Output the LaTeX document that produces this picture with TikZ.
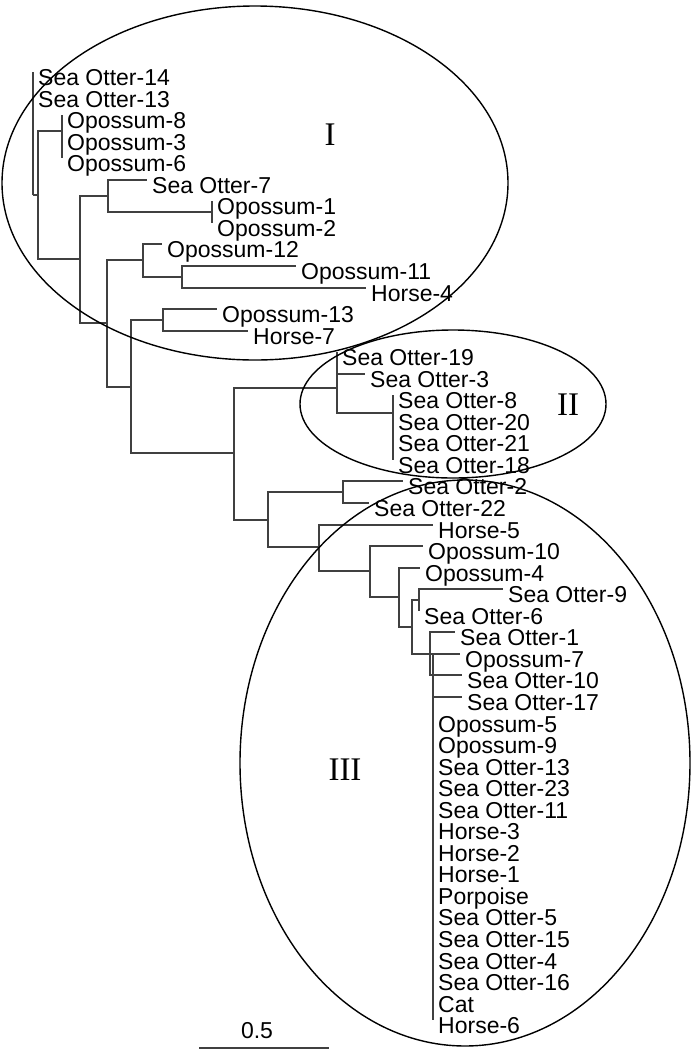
\documentclass[tikz,border=0pt]{standalone}
\usepackage{fontspec}
\setmainfont{Liberation Sans}
\newfontfamily\cladefont{Liberation Serif}
\tikzset{
  leaf/.style={anchor=base west, xshift=5pt, yshift=-13.5pt, inner sep=0pt, font=\fontsize{23}{23}\selectfont},
  branch/.style={line width=2pt, draw=black!75},
  clade/.style={line width=1.4pt},
  cladelabel/.style={inner sep=0pt, font=\cladefont\fontsize{33}{33}\selectfont}
}
\begin{document}
\begin{tikzpicture}[x=1pt,y=-1pt]
  \useasboundingbox (0,0) rectangle (691,1050);

  % inner nodes of the tree
  \coordinate (root) at (33,195);
  \coordinate (n1) at (38,195);
  \coordinate (n2) at (62,131);
  \coordinate (n3) at (80,259);
  \coordinate (n4) at (108,196);
  \coordinate (n5) at (212,212);
  \coordinate (n6) at (107,323);
  \coordinate (n7) at (143,260);
  \coordinate (n8) at (182,277);
  \coordinate (n9) at (131,387);
  \coordinate (n10) at (163,320);
  \coordinate (n11) at (234,453);
  \coordinate (n12) at (337,388);
  \coordinate (n13) at (393,413);
  \coordinate (n14) at (268,520);
  \coordinate (n15) at (343,492);
  \coordinate (n16) at (319,547);
  \coordinate (n17) at (370,571);
  \coordinate (n18) at (399,597);
  \coordinate (n19) at (412,627);
  \coordinate (n20) at (419,600);
  \coordinate (n21) at (430,654);
  \coordinate (n22) at (433,654);

  % leaves: row / tip x / name
  \foreach \i/\x/\t in {0/33/Sea Otter-14, 1/33/Sea Otter-13, 2/62/Opossum-8,
      3/62/Opossum-3, 4/62/Opossum-6, 5/147/Sea Otter-7, 6/212/Opossum-1,
      7/212/Opossum-2, 8/162/Opossum-12, 9/296/Opossum-11, 10/366/Horse-4,
      11/217/Opossum-13, 12/248/Horse-7, 13/337/Sea Otter-19, 14/365/Sea Otter-3,
      15/393/Sea Otter-8, 16/393/Sea Otter-20, 17/393/Sea Otter-21,
      18/393/Sea Otter-18, 19/403/Sea Otter-2, 20/369/Sea Otter-22,
      21/433/Horse-5, 22/423/Opossum-10, 23/420/Opossum-4, 24/503/Sea Otter-9,
      25/419/Sea Otter-6, 26/455/Sea Otter-1, 27/460/Opossum-7,
      28/462/Sea Otter-10, 29/462/Sea Otter-17, 30/433/Opossum-5,
      31/433/Opossum-9, 32/433/Sea Otter-13, 33/433/Sea Otter-23,
      34/433/Sea Otter-11, 35/433/Horse-3, 36/433/Horse-2, 37/433/Horse-1,
      38/433/Porpoise, 39/433/Sea Otter-5, 40/433/Sea Otter-15,
      41/433/Sea Otter-4, 42/433/Sea Otter-16, 43/433/Cat, 44/433/Horse-6} {
    \coordinate (t\i) at (\x,72+21.55*\i);
    \node[leaf] (l\i) at (t\i) {\t};
  }

  % branches
  \foreach \p/\c in {root/t0, root/t1, root/n1, n1/n2, n1/n3, n2/t2, n2/t3,
      n2/t4, n3/n4, n3/n6, n4/t5, n4/n5, n5/t6, n5/t7, n6/n7, n6/n9, n7/t8,
      n7/n8, n8/t9, n8/t10, n9/n10, n9/n11, n10/t11, n10/t12, n11/n12,
      n11/n14, n12/t13, n12/t14, n12/n13, n13/t15, n13/t16, n13/t17, n13/t18,
      n14/n15, n14/n16, n15/t19, n15/t20, n16/t21, n16/n17, n17/t22, n17/n18,
      n18/t23, n18/n19, n19/n20, n19/n21, n20/t24, n20/t25, n21/t26, n21/t28,
      n21/n22, n22/t27, n22/t29}
    \draw[branch] (\p) |- (\c);
  \foreach \i in {30,...,44}
    \draw[branch] (n22) |- (t\i);

  % clades
  \draw[clade] (255,183) ellipse [x radius=253pt, y radius=177pt];
  \draw[clade] (453,404) ellipse [x radius=153pt, y radius=74pt];
  \draw[clade] (465,763) ellipse [x radius=225pt, y radius=283pt];
  \node[cladelabel] (c1) at (330,135) {I};
  \node[cladelabel] (c2) at (568,405) {II};
  \node[cladelabel] (c3) at (345,770) {III};

  % scale bar
  \coordinate (s0) at (199,1048);
  \coordinate (s1) at (329,1048);
  \draw[branch] (s0) -- (s1);
  \node[inner sep=0pt, font=\fontsize{23}{23}\selectfont] (sl) at (257,1031) {0.5};
\end{tikzpicture}
\end{document}
